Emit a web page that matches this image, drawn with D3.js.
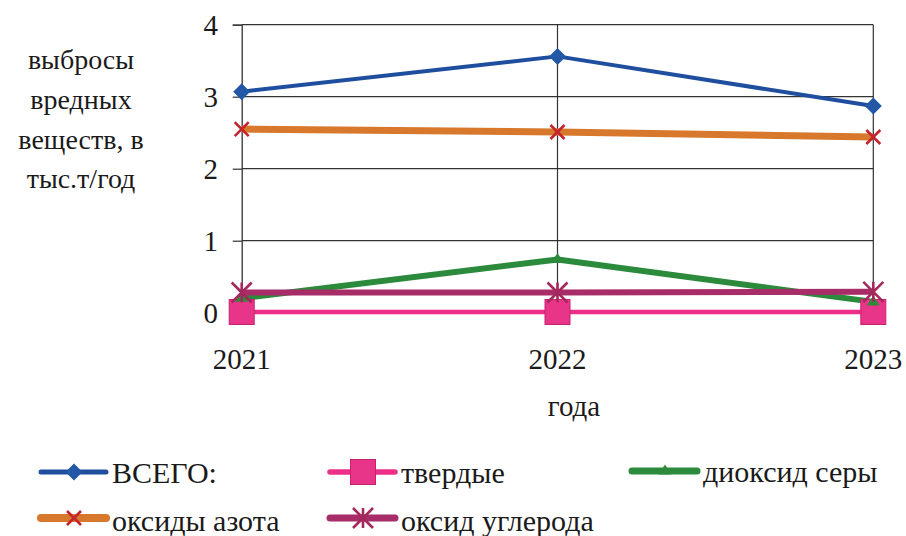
<!DOCTYPE html>
<html>
<head>
<meta charset="utf-8">
<script src="https://cdn.jsdelivr.net/npm/d3@7"></script>
</head>
<body style="margin:0">
<svg id="chart" width="906" height="536" font-family="Times New Roman"></svg>
<script>
// Выбросы вредных веществ, тыс. т/год
const years = ["2021", "2022", "2023"];
const yTicks = [0, 1, 2, 3, 4];
const seriesNames = ["ВСЕГО:", "твердые", "диоксид серы", "оксиды азота", "оксид углерода"];
const totalValues = [3.07, 3.56, 2.87];
const solidValues = [0.01, 0.01, 0.01];
const sulfurValues = [0.2, 0.74, 0.15];
const nitrogenValues = [2.55, 2.51, 2.44];
const carbonValues = [0.28, 0.28, 0.29];
const yTitleLines = ["выбросы", "вредных", "веществ, в", "тыс.т/год"];
const xTitle = "года";

const styles = [
  { line: "#1f4e9e", width: 4, marker: "diamond", fill: "#2358a6", size: 17 },
  { line: "#ee2f88", width: 4.5, marker: "square", fill: "#e8358a", size: 25 },
  { line: "#2b8a3b", width: 6, marker: "triangle", fill: "#2b8a3b", size: 13 },
  { line: "#d8782c", width: 7, marker: "x", fill: "#c4242c", size: 14 },
  { line: "#a82c68", width: 6, marker: "star", fill: "#a3285c", size: 20 }
];
const seriesValues = [totalValues, solidValues, sulfurValues, nitrogenValues, carbonValues];
const series = seriesNames.map((name, i) => ({ name, values: seriesValues[i], style: styles[i] }));

const svg = d3.select("#chart");
const x = d3.scalePoint().domain(years).range([241.7, 873.3]);
const y = d3.scaleLinear().domain([0, 4]).range([312.7, 24.7]);

// every label goes through here
function label(parent, str, px, py, size, anchor) {
  return parent.append("text")
    .attr("x", px).attr("y", py)
    .attr("font-family", d => "Times New Roman")
    .attr("font-size", size)
    .attr("text-anchor", anchor)
    .attr("fill", "#1a1a1a")
    .text(str);
}

// grid and frame
const grid = svg.append("g");
grid.selectAll("line.h").data(yTicks.filter(t => t > 0)).join("line")
  .attr("x1", x.range()[0]).attr("x2", x.range()[1])
  .attr("y1", d => y(d)).attr("y2", d => y(d))
  .attr("stroke", "#333").attr("stroke-width", 1.2);
grid.selectAll("line.v").data(years.slice(1)).join("line")
  .attr("x1", d => x(d)).attr("x2", d => x(d))
  .attr("y1", y(4)).attr("y2", y(0))
  .attr("stroke", "#333").attr("stroke-width", 1.2);

// y axis (lines from d3.axisLeft, labels drawn separately)
const yAxis = svg.append("g").attr("transform", `translate(${x.range()[0]},0)`)
  .call(d3.axisLeft(y).tickValues(yTicks).tickFormat("").tickSize(9));
yAxis.select(".domain").attr("stroke", "#333").attr("stroke-width", 1.3);
yAxis.selectAll(".tick line").attr("stroke", "#333").attr("stroke-width", 1.2);
yAxis.selectAll(".tick text").remove();
yTicks.forEach(t => label(svg, String(t), 218, y(t) + 10, 29, "end"));

// x axis
const xAxis = svg.append("g").attr("transform", `translate(0,${y(0)})`)
  .call(d3.axisBottom(x).tickFormat("").tickSize(8));
xAxis.select(".domain").attr("stroke", "#333").attr("stroke-width", 1.2);
xAxis.selectAll(".tick line").attr("stroke", "#333");
xAxis.selectAll(".tick text").remove();
years.forEach(yr => label(svg, yr, x(yr), 369, 29, "middle"));

// axis titles
label(svg, xTitle, 574, 416, 29, "middle");
yTitleLines.forEach((t, i) => label(svg, t, 81, 69 + i * 39.8, 28, "middle"));

// marker drawing
function drawMarker(g, st) {
  const s = st.size, h = s / 2;
  if (st.marker === "diamond") {
    g.append("path").attr("d", `M0,${-h}L${h},0L0,${h}L${-h},0Z`).attr("fill", st.fill);
  } else if (st.marker === "square") {
    g.append("rect").attr("x", -h).attr("y", -h).attr("width", s).attr("height", s)
      .attr("fill", st.fill).attr("stroke", "#c8206e").attr("stroke-width", 1);
  } else if (st.marker === "triangle") {
    g.append("path").attr("d", `M0,${-h}L${h},${h * 0.55}L${-h},${h * 0.55}Z`).attr("fill", st.fill);
  } else if (st.marker === "x") {
    g.append("path").attr("d", `M${-h},${-h}L${h},${h}M${h},${-h}L${-h},${h}`)
      .attr("stroke", st.fill).attr("stroke-width", 2.6).attr("fill", "none");
  } else if (st.marker === "star") {
    g.append("path").attr("d", `M${-h},${-h}L${h},${h}M${h},${-h}L${-h},${h}M0,${-h}L0,${h}`)
      .attr("stroke", st.fill).attr("stroke-width", 2.6).attr("fill", "none");
  }
}

// series lines
const line = d3.line().x((d, i) => x(years[i])).y(d => y(d));
const plot = svg.append("g");
plot.selectAll("path.series").data(series).join("path")
  .attr("d", d => line(d.values))
  .attr("fill", "none")
  .attr("stroke", d => d.style.line)
  .attr("stroke-width", d => d.style.width)
  .attr("stroke-linejoin", "round");

// series markers
series.forEach(sr => {
  sr.values.forEach((v, i) => {
    const g = plot.append("g").attr("transform", `translate(${x(years[i])},${y(v)})`);
    drawMarker(g, sr.style);
  });
});

// legend
const legendPos = [
  { x: 41, y: 472 }, { x: 330, y: 472 }, { x: 632, y: 471 },
  { x: 41, y: 518 }, { x: 330, y: 518 }
];
series.forEach((d, i) => {
  const g = svg.append("g").attr("transform", `translate(${legendPos[i].x},${legendPos[i].y})`);
  g.append("line").attr("x1", 0).attr("x2", 65).attr("y1", 0).attr("y2", 0)
    .attr("stroke", d.style.line).attr("stroke-width", d.style.width + 1)
    .attr("stroke-linecap", "round");
  const m = g.append("g").attr("transform", "translate(33,0)");
  drawMarker(m, d.style);
  label(g, d.name, 71, i < 3 ? 11 : 13, 30, "start");
});
</script>
</body>
</html>
